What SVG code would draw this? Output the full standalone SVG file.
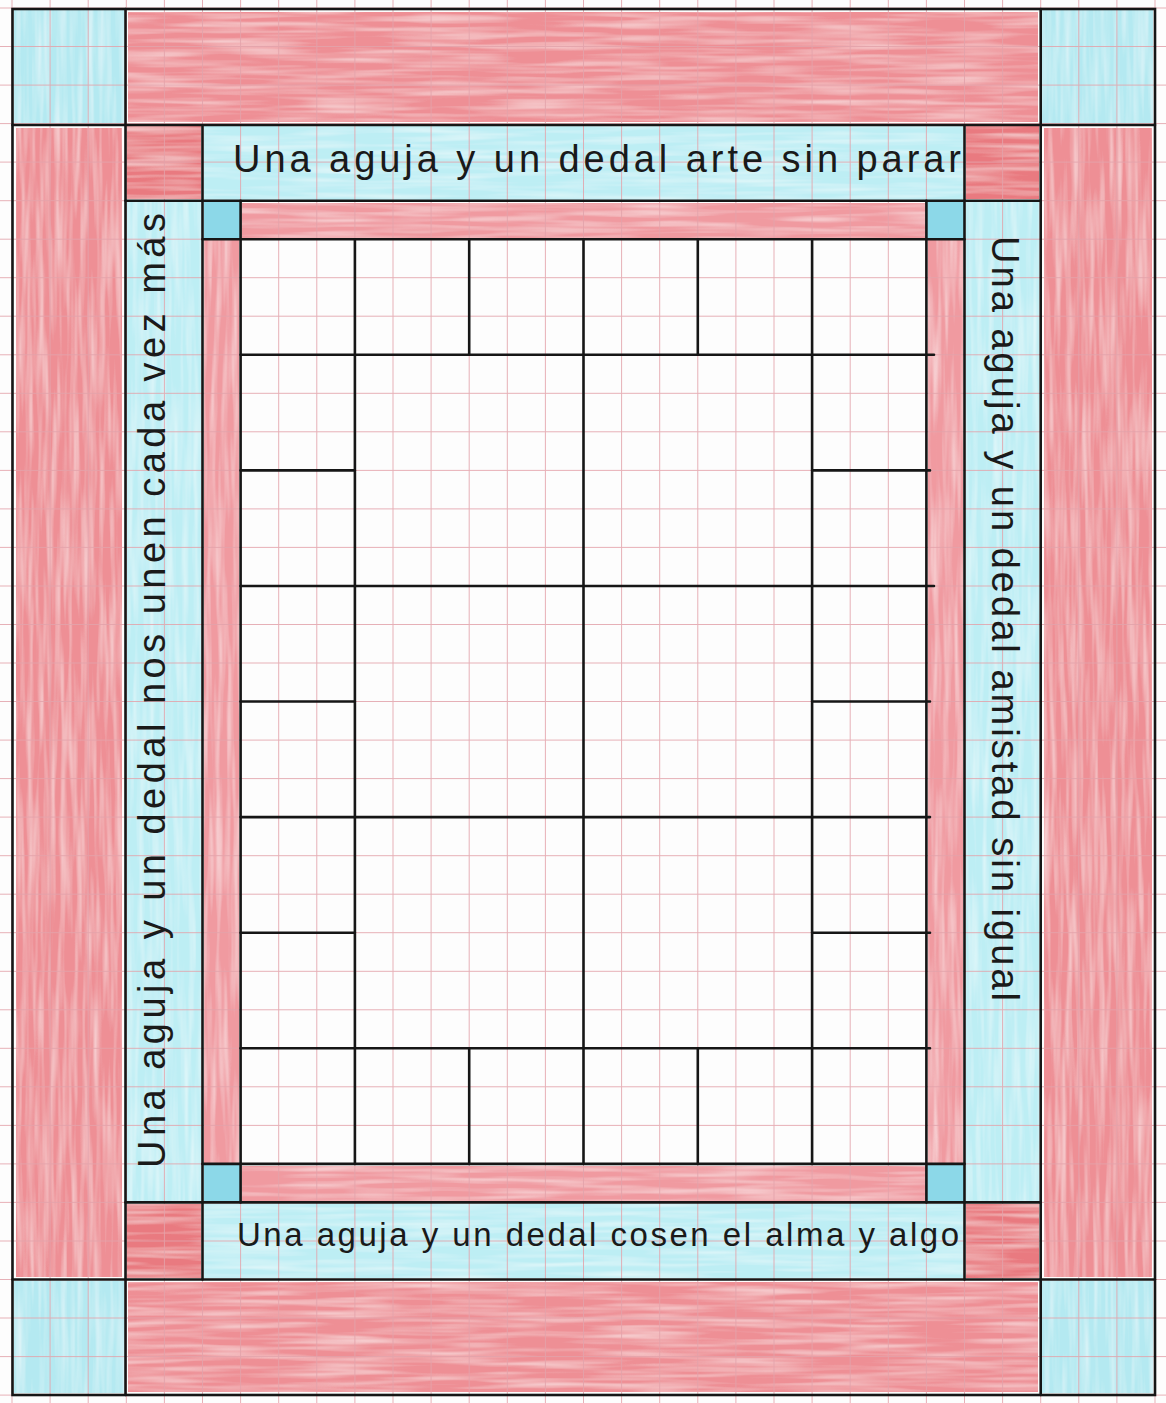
<svg xmlns="http://www.w3.org/2000/svg" width="1166" height="1403" viewBox="0 0 1166 1403">
<style>
.red{fill:#ee8f95}
.redd{fill:#e97a80}
.redl{fill:#f09aa0}
.blue{fill:#b4e9f1}
.bluel{fill:#bdeef4}
.blued{fill:#8cd8e8}
.ink{stroke:#161616;stroke-width:2.6;fill:none;stroke-linecap:round}
.grid{stroke:#e3a3ab;stroke-width:1;fill:none;opacity:0.85}
.txt{font-family:"Liberation Sans","DejaVu Sans",sans-serif;font-size:38px;fill:#1a1a1a;font-weight:normal}
</style>
<defs>
<filter id="pH" x="0" y="0" width="100%" height="100%">
<feTurbulence type="fractalNoise" baseFrequency="0.01 0.18" numOctaves="2" seed="4" result="n"/>
<feColorMatrix in="n" type="matrix" values="0 0 0 0 1  0 0 0 0 1  0 0 0 0 1  0.9 0 0 0 -0.35" result="w"/>
<feComposite in="w" in2="SourceGraphic" operator="in" result="wm"/>
<feMerge><feMergeNode in="SourceGraphic"/><feMergeNode in="wm"/></feMerge>
</filter>
<filter id="pV" x="0" y="0" width="100%" height="100%">
<feTurbulence type="fractalNoise" baseFrequency="0.18 0.01" numOctaves="2" seed="7" result="n"/>
<feColorMatrix in="n" type="matrix" values="0 0 0 0 1  0 0 0 0 1  0 0 0 0 1  0.9 0 0 0 -0.35" result="w"/>
<feComposite in="w" in2="SourceGraphic" operator="in" result="wm"/>
<feMerge><feMergeNode in="SourceGraphic"/><feMergeNode in="wm"/></feMerge>
</filter>
</defs>
<rect width="1166" height="1403" fill="#fdfdfd"/>

<g id="fills">
<g filter="url(#pV)">
<rect class="blue" x="14" y="10" width="110" height="113"/>
<rect class="blue" x="1042" y="10" width="111" height="113"/>
<rect class="blue" x="14" y="1281" width="110" height="112"/>
<rect class="blue" x="1042" y="1281" width="111" height="112"/>
<rect class="red" x="16" y="128" width="106" height="1149"/>
<rect class="red" x="1044" y="128" width="108" height="1149"/>
</g>
<g filter="url(#pH)">
<rect class="red" x="128" y="12" width="910" height="110"/>
<rect class="red" x="128" y="1282" width="910" height="110"/>
</g>
<g filter="url(#pH)">
<rect class="redd" x="127" y="126" width="74" height="73"/>
<rect class="redd" x="966" y="126" width="73" height="73"/>
<rect class="redd" x="127" y="1204" width="74" height="74"/>
<rect class="redd" x="966" y="1204" width="73" height="74"/>
<rect class="bluel" x="204" y="126" width="759" height="74"/>
<rect class="bluel" x="204" y="1204" width="759" height="74"/>
</g>
<g filter="url(#pV)">
<rect class="bluel" x="127" y="201" width="74" height="1001"/>
<rect class="bluel" x="966" y="201" width="73" height="1001"/>
</g>
<rect class="blued" x="204" y="202" width="36" height="37"/>
<rect class="blued" x="927" y="202" width="37" height="37"/>
<rect class="blued" x="204" y="1165" width="36" height="37"/>
<rect class="blued" x="927" y="1165" width="37" height="37"/>
<g filter="url(#pH)">
<rect class="redl" x="242" y="203" width="684" height="35"/>
<rect class="redl" x="242" y="1166" width="684" height="35"/>
</g>
<g filter="url(#pV)">
<rect class="redl" x="204" y="240" width="35" height="923"/>
<rect class="redl" x="928" y="240" width="35" height="923"/>
</g>
</g>

<g id="paper-grid" class="grid">
<path d="M12 0V1403M50.1 0V1403M88.2 0V1403M126.3 0V1403M164.4 0V1403M202.5 0V1403M240.6 0V1403M278.7 0V1403M316.8 0V1403M354.9 0V1403M393 0V1403M431.1 0V1403M469.2 0V1403M507.3 0V1403M545.4 0V1403M583.5 0V1403M621.6 0V1403M659.7 0V1403M697.8 0V1403M735.9 0V1403M774 0V1403M812.1 0V1403M850.2 0V1403M888.3 0V1403M926.4 0V1403M964.5 0V1403M1002.6 0V1403M1040.7 0V1403M1078.8 0V1403M1116.9 0V1403M1155 0V1403"/>
<path d="M0 8H1166M0 46.5H1166M0 85.1H1166M0 123.6H1166M0 162.1H1166M0 200.7H1166M0 239.2H1166M0 277.7H1166M0 316.2H1166M0 354.8H1166M0 393.3H1166M0 431.8H1166M0 470.4H1166M0 508.9H1166M0 547.4H1166M0 586H1166M0 624.5H1166M0 663H1166M0 701.5H1166M0 740.1H1166M0 778.6H1166M0 817.1H1166M0 855.7H1166M0 894.2H1166M0 932.7H1166M0 971.3H1166M0 1009.8H1166M0 1048.3H1166M0 1086.8H1166M0 1125.4H1166M0 1163.9H1166M0 1202.4H1166M0 1241H1166M0 1279.5H1166M0 1318H1166M0 1356.6H1166M0 1395.1H1166"/>
</g>

<g id="outlines" class="ink">
<rect x="12.5" y="9" width="1142.5" height="1386"/>
<path d="M12.5 125H1155M12.5 1279.5H1155M125.5 9V1395M1040.7 9V1395"/>
<path d="M125.5 200.7H1040.7M125.5 1202.4H1040.7M202.5 125V1279.5M964.5 125V1279.5"/>
<path d="M202.5 239.2H964.5M202.5 1163.9H964.5M240.6 200.7V1202.4M926.4 200.7V1202.4"/>
<path d="M240.6 354.8H934M240.6 586H934M240.6 817.1H930M240.6 1048.3H930"/>
<path d="M240.6 470.4H354.9M812.1 470.4H930M240.6 701.5H354.9M812.1 701.5H930M240.6 932.7H354.9M812.1 932.7H930"/>
<path d="M354.9 239.2V1163.9M583.5 239.2V1163.9M812.1 239.2V1163.9"/>
<path d="M469.2 239.2V354.8M697.8 239.2V354.8M469.2 1048.3V1163.9M697.8 1048.3V1163.9"/>
</g>

<g id="texts">
<text class="txt" x="233" y="172" textLength="728" lengthAdjust="spacing">Una aguja y un dedal arte sin parar</text>
<text class="txt" x="237" y="1246" textLength="722" lengthAdjust="spacing" style="font-size:33px">Una aguja y un dedal cosen el alma y algo</text>
<text class="txt" transform="translate(165,1168) rotate(-90)" textLength="955" lengthAdjust="spacing">Una aguja y un dedal nos unen cada vez más</text>
<text class="txt" transform="translate(992,236) rotate(90)" textLength="765" lengthAdjust="spacing">Una aguja y un dedal amistad sin igual</text>
</g>
</svg>
